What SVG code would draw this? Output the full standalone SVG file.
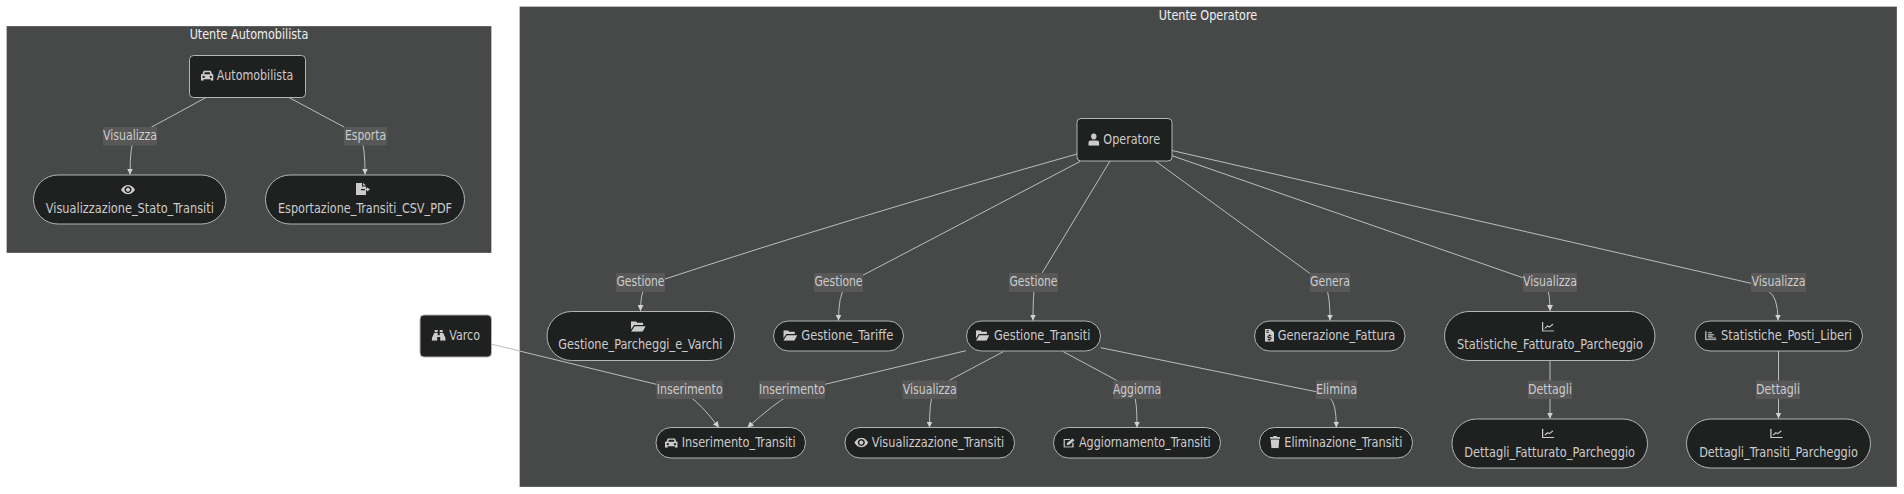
<svg xmlns="http://www.w3.org/2000/svg" width="1904" height="494" viewBox="0 0 1904 494">
<style>
text{font-family:"DejaVu Sans Condensed","DejaVu Sans",sans-serif;font-size:14px;fill:#ccc;text-anchor:middle}
.cl{fill:#474949;stroke:#fff;stroke-opacity:.3;stroke-width:1}
.t{fill:#f0f0f0}
.n{fill:#1f2020;stroke:#b4b4b4;stroke-width:1}
.e{fill:none;stroke:#bdbdbd;stroke-width:1}
.l{fill:#585858}
.i{fill:#ccc}
</style>
<defs>
<marker id="a" markerWidth="6" markerHeight="6" refX="6" refY="3" orient="auto" markerUnits="userSpaceOnUse"><path d="M0,0L6,3L0,6z" fill="#d3d3d3"/></marker>
<symbol id="car" viewBox="0 0 14 14" preserveAspectRatio="none"><path class="i" fill-rule="evenodd" d="M3,1h8l1.500,4.500H14V14h-3v-2H3v2H0V5.500h1.500zM4.300,3L3.500,5.500h7L9.700,3zM3,7.500a1.300,1.500 0 1 0 .01,0zM11,7.500a1.300,1.500 0 1 0 .01,0z"/></symbol>
<symbol id="eye" viewBox="0 0 14 14" preserveAspectRatio="none"><path class="i" fill-rule="evenodd" d="M0,7C2,2 5,0 7,0S12,2 14,7C12,12 9,14 7,14S2,12 0,7zM7,2a3.500,5 0 1 0 .01,0zM7,4a2,3 0 1 1 -.01,0z"/></symbol>
<symbol id="exp" viewBox="0 0 14 14" preserveAspectRatio="none"><path class="i" d="M0,0h6v4h4v3H5v1.500h5V14H0zM7,0l3,3H7zM9,6.500h2V5l3,2.500l-3,2.500V8.500H9z"/></symbol>
<symbol id="bin" viewBox="0 0 14 14" preserveAspectRatio="none"><path class="i" d="M3,0h3v3H3zM8,0h3v3H8zM2.500,4H6V7h2V4h3.500L14,11v3H8.500V9h-3v5H0V11z"/></symbol>
<symbol id="fold" viewBox="0 0 14 14" preserveAspectRatio="none"><path class="i" d="M0,0h4.500l1.500,2h5.500V5H3L0,11zM3.500,6.500H14L11,14H0z"/></symbol>
<symbol id="user" viewBox="0 0 14 14" preserveAspectRatio="none"><path class="i" d="M7,0a3.500,3.500 0 1 1 -.01,0zM3,8h8a3,3 0 0 1 3,3v3H0v-3A3,3 0 0 1 3,8z"/></symbol>
<symbol id="inv" viewBox="0 0 14 14" preserveAspectRatio="none"><path class="i" fill-rule="evenodd" d="M0,0H8l6,3.500V14H0zM2,1.500v1h4v-1zM2,3.500v1h4v-1zM6,6v1C3,7.500 3,10 6,10.300h2.500v.7H4v1h2v1h2v-1C11,11.500 11,9 8,8.700H5.500V8H10V7H8V6z"/></symbol>
<symbol id="line" viewBox="0 0 14 14" preserveAspectRatio="none"><path fill="none" stroke="#ccc" stroke-width="1.400" d="M1,.5V13H14M3.500,9.500L6.500,6L8.500,7.500L12.500,3.500"/></symbol>
<symbol id="bar" viewBox="0 0 14 14" preserveAspectRatio="none"><path fill="none" stroke="#ccc" stroke-width="1.500" d="M1,.5V13H14M3.500,2.500H8.500M3.500,5.500H11M3.500,8H9M3.500,10.500H13"/></symbol>
<symbol id="edit" viewBox="0 0 14 14" preserveAspectRatio="none"><path fill="none" stroke="#ccc" stroke-width="1.600" d="M8,2.500H1V13H11.500V7"/><path class="i" d="M4.500,7.500L11,1L13.500,3.500L7,10L4,10.500z"/></symbol>
<symbol id="tr" viewBox="0 0 14 14" preserveAspectRatio="none"><path class="i" d="M0,1.200H4L5,0H9L10,1.200H14V3H0zM1,4H13L12,14H2z"/></symbol>
</defs>
<rect width="1904" height="494" fill="#fff"/>
<rect class="cl" x="6.500" y="26" width="485" height="227"/>
<rect class="cl" x="519.500" y="6.500" width="1377.500" height="480.500"/>
<text class="t" x="249" y="39" textLength="118.700" lengthAdjust="spacingAndGlyphs">Utente Automobilista</text>
<text class="t" x="1208" y="20" textLength="98.300" lengthAdjust="spacingAndGlyphs">Utente Operatore</text>
<g id="connectors">
<path class="e" marker-end="url(#a)" d="M205.700,97.700L151.700,127L135,138Q130,143 130,174.500"/>
<path class="e" marker-end="url(#a)" d="M289.300,97.700L344,127L362,142Q365,148 365,174.500"/>
<path class="e" marker-end="url(#a)" d="M1077,154Q850,218 665,279L645,288Q640.500,293 640.500,311"/>
<path class="e" marker-end="url(#a)" d="M1080,161.500L863.300,275L845,288Q838.500,295 838.500,320.500"/>
<path class="e" marker-end="url(#a)" d="M1110,161L1042.300,272.700L1035,285Q1033,292 1033,320.500"/>
<path class="e" marker-end="url(#a)" d="M1155.400,161L1309.800,273.300L1326,288Q1330,295 1330,320.500"/>
<path class="e" marker-end="url(#a)" d="M1172,155.700L1522.800,277.700L1547,289Q1550,293 1550,311"/>
<path class="e" marker-end="url(#a)" d="M1172,150.500L1751,283.300L1768,291Q1778,296 1778,320.500"/>
<path class="e" marker-end="url(#a)" d="M1550,360.500V418.500"/>
<path class="e" marker-end="url(#a)" d="M1778.500,351V418.500"/>
<path class="e" marker-end="url(#a)" d="M492,344.300L656.300,384.300L690,397Q700,403 719,427.500"/>
<path class="e" marker-end="url(#a)" d="M966,350.700L825,384.300L788,396Q775,403 747.500,427.500"/>
<path class="e" marker-end="url(#a)" d="M1003.300,351.700L950,380L933,395Q929.500,400 929.500,427.500"/>
<path class="e" marker-end="url(#a)" d="M1063.300,351.700L1116,380L1134,395Q1137,400 1137,427.500"/>
<path class="e" marker-end="url(#a)" d="M1100.700,347.700L1316,391.700L1330,398Q1336.300,403 1336.300,427.500"/>
</g>
<g id="edge-labels">
<rect class="l" x="103" y="127" width="54" height="18.500"/><text x="130" y="140" textLength="54" lengthAdjust="spacingAndGlyphs">Visualizza</text>
<rect class="l" x="344" y="127" width="43" height="18.500"/><text x="365.500" y="140" textLength="41" lengthAdjust="spacingAndGlyphs">Esporta</text>
<rect class="l" x="616" y="273" width="49" height="19"/><text x="640.500" y="286" textLength="48" lengthAdjust="spacingAndGlyphs">Gestione</text>
<rect class="l" x="814" y="273" width="49" height="19"/><text x="838.500" y="286" textLength="48" lengthAdjust="spacingAndGlyphs">Gestione</text>
<rect class="l" x="1009" y="273" width="49" height="19"/><text x="1033.500" y="286" textLength="48" lengthAdjust="spacingAndGlyphs">Gestione</text>
<rect class="l" x="1309.800" y="273" width="40.200" height="19"/><text x="1330" y="286" textLength="40" lengthAdjust="spacingAndGlyphs">Genera</text>
<rect class="l" x="1522.800" y="273" width="54.200" height="19"/><text x="1550" y="286" textLength="54" lengthAdjust="spacingAndGlyphs">Visualizza</text>
<rect class="l" x="1751" y="273" width="55" height="19"/><text x="1778.500" y="286" textLength="54" lengthAdjust="spacingAndGlyphs">Visualizza</text>
<rect class="l" x="1528" y="380.500" width="44" height="18.500"/><text x="1550" y="394" textLength="44" lengthAdjust="spacingAndGlyphs">Dettagli</text>
<rect class="l" x="1756" y="380.500" width="44" height="18.500"/><text x="1778" y="394" textLength="44" lengthAdjust="spacingAndGlyphs">Dettagli</text>
<rect class="l" x="656.300" y="380.500" width="66.700" height="18.500"/><text x="689.700" y="394" textLength="66" lengthAdjust="spacingAndGlyphs">Inserimento</text>
<rect class="l" x="759" y="380.500" width="66" height="18.500"/><text x="792" y="394" textLength="66" lengthAdjust="spacingAndGlyphs">Inserimento</text>
<rect class="l" x="902.500" y="380.500" width="54.500" height="18.500"/><text x="929.800" y="394" textLength="54" lengthAdjust="spacingAndGlyphs">Visualizza</text>
<rect class="l" x="1113" y="380.500" width="48" height="18.500"/><text x="1137" y="394" textLength="48" lengthAdjust="spacingAndGlyphs">Aggiorna</text>
<rect class="l" x="1316" y="380.500" width="41" height="18.500"/><text x="1336.500" y="394" textLength="41" lengthAdjust="spacingAndGlyphs">Elimina</text>
</g>
<g id="Automobilista"><rect class="n" x="189.500" y="55.500" width="116" height="42" rx="4"/><use href="#car" x="201" y="70" width="12.500" height="10.700"/><text x="255" y="80" textLength="76.600" lengthAdjust="spacingAndGlyphs">Automobilista</text></g>
<g id="Visualizzazione_Stato_Transiti"><rect class="n" x="33.500" y="175" width="192.500" height="49" rx="24.500"/><use href="#eye" x="121" y="185" width="14" height="9.300"/><text x="129.800" y="213.300" textLength="168" lengthAdjust="spacingAndGlyphs">Visualizzazione_Stato_Transiti</text></g>
<g id="Esportazione_Transiti_CSV_PDF"><rect class="n" x="265.500" y="175" width="199" height="49" rx="24.500"/><use href="#exp" x="356" y="183" width="14" height="12"/><text x="365" y="213.300" textLength="174" lengthAdjust="spacingAndGlyphs">Esportazione_Transiti_CSV_PDF</text></g>
<g id="Varco"><rect class="n" x="420" y="315" width="71.500" height="42" rx="4"/><use href="#bin" x="431.700" y="330" width="14" height="10.700"/><text x="464.700" y="339.500" textLength="30.700" lengthAdjust="spacingAndGlyphs">Varco</text></g>
<g id="Operatore"><rect class="n" x="1077" y="118.500" width="95" height="42.500" rx="4"/><use href="#user" x="1088.300" y="133.300" width="11" height="12.400"/><text x="1131.700" y="144" textLength="56.700" lengthAdjust="spacingAndGlyphs">Operatore</text></g>
<g id="Gestione_Parcheggi_e_Varchi"><rect class="n" x="547" y="311.500" width="187.500" height="49" rx="24.500"/><use href="#fold" x="631" y="321.300" width="14.700" height="10.400"/><text x="640.300" y="349" textLength="164" lengthAdjust="spacingAndGlyphs">Gestione_Parcheggi_e_Varchi</text></g>
<g id="Gestione_Tariffe"><rect class="n" x="773.500" y="321" width="130" height="30" rx="15"/><use href="#fold" x="783.300" y="330.300" width="14" height="10.400"/><text x="847.300" y="340" textLength="92" lengthAdjust="spacingAndGlyphs">Gestione_Tariffe</text></g>
<g id="Gestione_Transiti"><rect class="n" x="966.500" y="321" width="134" height="30" rx="15"/><use href="#fold" x="976" y="330.300" width="13.300" height="10.400"/><text x="1042.200" y="340" textLength="96.300" lengthAdjust="spacingAndGlyphs">Gestione_Transiti</text></g>
<g id="Generazione_Fattura"><rect class="n" x="1254.500" y="321" width="150.500" height="30" rx="15"/><use href="#inv" x="1265" y="329" width="9" height="12.700"/><text x="1336.500" y="340" textLength="117.600" lengthAdjust="spacingAndGlyphs">Generazione_Fattura</text></g>
<g id="Statistiche_Fatturato_Parcheggio"><rect class="n" x="1444.500" y="311.500" width="210.500" height="49" rx="24.500"/><use href="#line" x="1541.700" y="321.700" width="12.600" height="10"/><text x="1550" y="349" textLength="186" lengthAdjust="spacingAndGlyphs">Statistiche_Fatturato_Parcheggio</text></g>
<g id="Statistiche_Posti_Liberi"><rect class="n" x="1695" y="321" width="167.500" height="30" rx="15"/><use href="#bar" x="1705" y="331" width="11.700" height="9.300"/><text x="1786.500" y="340" textLength="131" lengthAdjust="spacingAndGlyphs">Statistiche_Posti_Liberi</text></g>
<g id="Dettagli_Fatturato_Parcheggio"><rect class="n" x="1452" y="419" width="195.500" height="49" rx="24.500"/><use href="#line" x="1541.700" y="428.300" width="12.600" height="10"/><text x="1549.700" y="457" textLength="170.700" lengthAdjust="spacingAndGlyphs">Dettagli_Fatturato_Parcheggio</text></g>
<g id="Dettagli_Transiti_Parcheggio"><rect class="n" x="1686.500" y="419" width="184" height="49" rx="24.500"/><use href="#line" x="1770" y="428.300" width="12.700" height="10"/><text x="1778.500" y="457" textLength="158.700" lengthAdjust="spacingAndGlyphs">Dettagli_Transiti_Parcheggio</text></g>
<g id="Inserimento_Transiti"><rect class="n" x="656" y="427.500" width="149.500" height="30.500" rx="15"/><use href="#car" x="665" y="437.700" width="12.700" height="10"/><text x="738.700" y="447" textLength="114" lengthAdjust="spacingAndGlyphs">Inserimento_Transiti</text></g>
<g id="Visualizzazione_Transiti"><rect class="n" x="845" y="427.500" width="169.500" height="30.500" rx="15"/><use href="#eye" x="854.300" y="437.700" width="14" height="9.700"/><text x="938" y="447" textLength="132.600" lengthAdjust="spacingAndGlyphs">Visualizzazione_Transiti</text></g>
<g id="Aggiornamento_Transiti"><rect class="n" x="1053.500" y="427.500" width="167" height="30.500" rx="15"/><use href="#edit" x="1063.300" y="437.700" width="11.700" height="10"/><text x="1144.800" y="447" textLength="131.700" lengthAdjust="spacingAndGlyphs">Aggiornamento_Transiti</text></g>
<g id="Eliminazione_Transiti"><rect class="n" x="1259.500" y="427.500" width="153" height="30.500" rx="15"/><use href="#tr" x="1270" y="436" width="10" height="12.300"/><text x="1343.300" y="447" textLength="118" lengthAdjust="spacingAndGlyphs">Eliminazione_Transiti</text></g>
</svg>
